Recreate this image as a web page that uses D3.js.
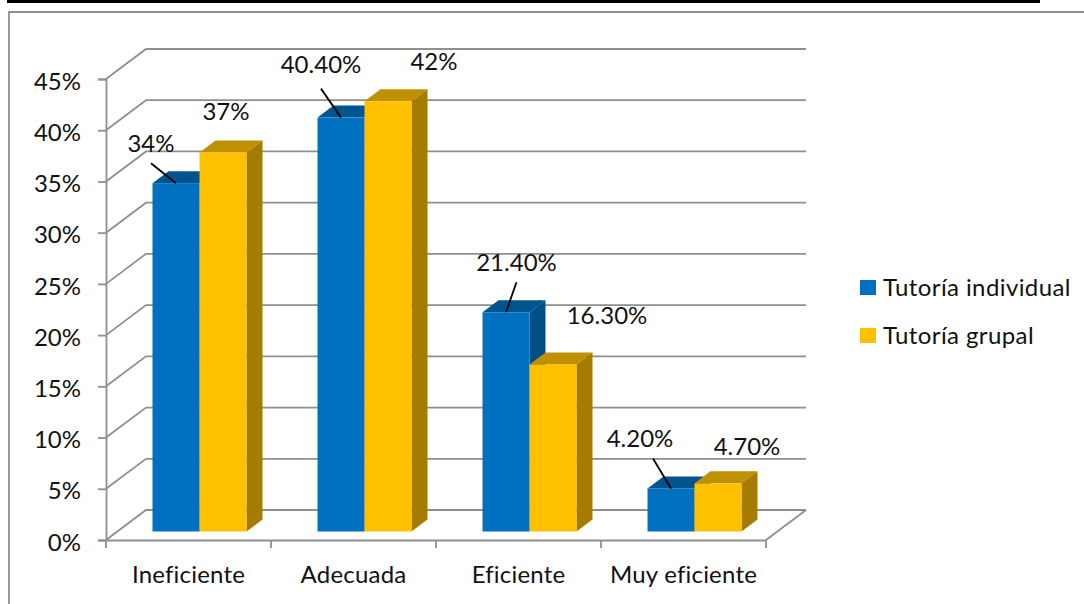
<!DOCTYPE html>
<html>
<head>
<meta charset="utf-8">
<script src="https://cdn.jsdelivr.net/npm/d3@7"></script>
<style>
  html, body { margin: 0; padding: 0; background: #fff; overflow: hidden; }
  svg { display: block; }
  text { font-family: Lato, "Open Sans", sans-serif; fill: #111; font-variant-ligatures: none; }
</style>
</head>
<body>
<div id="viz"></div>
<script>
const categories = ["Ineficiente", "Adecuada", "Eficiente", "Muy eficiente"];
const seriesNames = ["Tutoría individual", "Tutoría grupal"];
const individual = [34, 40.4, 21.4, 4.2];
const grupal = [37, 42, 16.3, 4.7];
const individualLabels = ["34%", "40.40%", "21.40%", "4.20%"];
const grupalLabels = ["37%", "42%", "16.30%", "4.70%"];
const yTicks = [0, 5, 10, 15, 20, 25, 30, 35, 40, 45];

const W = 1084, H = 604;
const GRAY = "#8f8f8f";
const FONT = 24;
const colors = [
  { front: "#0070c0", top: "#00558f", side: "#004f86" },
  { front: "#ffc000", top: "#bf9000", side: "#a67c00" }
];

const svg = d3.select("#viz").append("svg").attr("width", W).attr("height", H);

// page rule and chart frame
svg.append("line").attr("x1", 7).attr("x2", 1040).attr("y1", 1.5).attr("y2", 1.5)
  .attr("stroke", "#000").attr("stroke-width", 3);
svg.append("path").attr("d", `M9,${H}V12H${W}`)
  .attr("fill", "none").attr("stroke", GRAY).attr("stroke-width", 1.8);

const x = d3.scaleBand().domain(categories).range([106, 766]);
const y = d3.scaleLinear().domain([0, 45]).range([540, 79]);

const depth = { x: 40, y: -30 };      // walls
const barDepth = { x: 16, y: -12 };   // bars
const barBase = 531.5;
const barW = 47;
const barH = v => y(0) - y(v);
const barX = (i, s) => x(categories[i]) + 46.5 + s * barW;
const barTop = v => barBase - barH(v);

// walls: one line from the front axis to the back, then across
const grid = svg.append("g").attr("fill", "none").attr("stroke", GRAY).attr("stroke-width", 1.8);
grid.selectAll("path").data(yTicks).join("path")
  .attr("d", d => `M106,${y(d)}L${106 + depth.x},${y(d) + depth.y}H${766 + depth.x}`);
grid.append("path").attr("d", `M766,${y(0)}L${766 + depth.x},${y(0) + depth.y}`);

// axes
const yAxis = svg.append("g").attr("transform", "translate(106,0)")
  .call(d3.axisLeft(y).tickValues(yTicks).tickFormat(d => d + "%").tickSize(8).tickPadding(17));
const xAxis = svg.append("g").attr("transform", `translate(0,${y(0)})`)
  .call(d3.axisBottom(x).tickSize(0).tickPadding(26));
[yAxis, xAxis].forEach(a => {
  a.select(".domain").attr("stroke", GRAY).attr("stroke-width", 1.8);
  a.selectAll("line").attr("stroke", GRAY).attr("stroke-width", 1.8);
  a.selectAll("text").attr("font-size", FONT).attr("fill", "#111");
});
yAxis.selectAll("text").attr("y", 2.5);
xAxis.selectAll("text").attr("letter-spacing", 0.2);
// category ticks sit on the band edges, not the centres
svg.append("g").selectAll("line").data(categories.concat(["end"])).join("line")
  .attr("x1", (d, i) => x.range()[0] + i * x.step())
  .attr("x2", (d, i) => x.range()[0] + i * x.step())
  .attr("y1", y(0)).attr("y2", y(0) + 8)
  .attr("stroke", GRAY).attr("stroke-width", 1.8);

// bars
[individual, grupal].forEach((values, s) => {
  const c = colors[s];
  const g = svg.append("g");
  g.selectAll(".top").data(values).join("path").attr("class", "top")
    .attr("fill", c.top)
    .attr("d", (v, i) => `M${barX(i, s)},${barTop(v)}l${barDepth.x},${barDepth.y}h${barW}l${-barDepth.x},${-barDepth.y}z`);
  g.selectAll(".side").data(values).join("path").attr("class", "side")
    .attr("fill", c.side)
    .attr("d", (v, i) => `M${barX(i, s) + barW},${barTop(v)}l${barDepth.x},${barDepth.y}V${barBase + barDepth.y}l${-barDepth.x},${-barDepth.y}z`);
  g.selectAll("rect").data(values).join("rect")
    .attr("x", (v, i) => barX(i, s)).attr("y", barTop).attr("width", barW).attr("height", barH)
    .attr("fill", c.front);
});

// data labels, moved by hand like in the original
const labelShift = [
  [[-25, -31], [-20, -45], [10.5, -41], [-31, -41]],
  [[3, -32], [46, -31], [54, -41], [29, -28]]
];
const leaderStart = [[-25, -20], [-20, -29], [10.5, -30], [-18, -30]];
const labelG = svg.append("g");
[[individual, individualLabels], [grupal, grupalLabels]].forEach(([vals, texts], s) => {
  labelG.selectAll(`.l${s}`).data(vals).join("text").attr("class", `l${s}`)
    .attr("text-anchor", "middle").attr("font-size", FONT)
    .attr("x", (v, i) => barX(i, s) + barW / 2 + labelShift[s][i][0])
    .attr("y", (v, i) => barTop(v) + labelShift[s][i][1])
    .text((v, i) => texts[i]);
});
labelG.selectAll("line").data(individual).join("line")
  .attr("x1", (v, i) => barX(i, 0) + barW / 2 + leaderStart[i][0])
  .attr("y1", (v, i) => barTop(v) + leaderStart[i][1])
  .attr("x2", (v, i) => barX(i, 0) + barW / 2)
  .attr("y2", barTop)
  .attr("stroke", "#000").attr("stroke-width", 1.8);

// legend
const legend = svg.append("g").selectAll("g").data(seriesNames).join("g")
  .attr("transform", (d, i) => `translate(860,${280 + i * 48})`);
legend.append("rect").attr("width", 16).attr("height", 15).attr("fill", (d, i) => colors[i].front);
legend.append("text").attr("x", 23).attr("y", 16).attr("font-size", FONT).attr("letter-spacing", 0.4).text(d => d);
</script>
</body>
</html>
